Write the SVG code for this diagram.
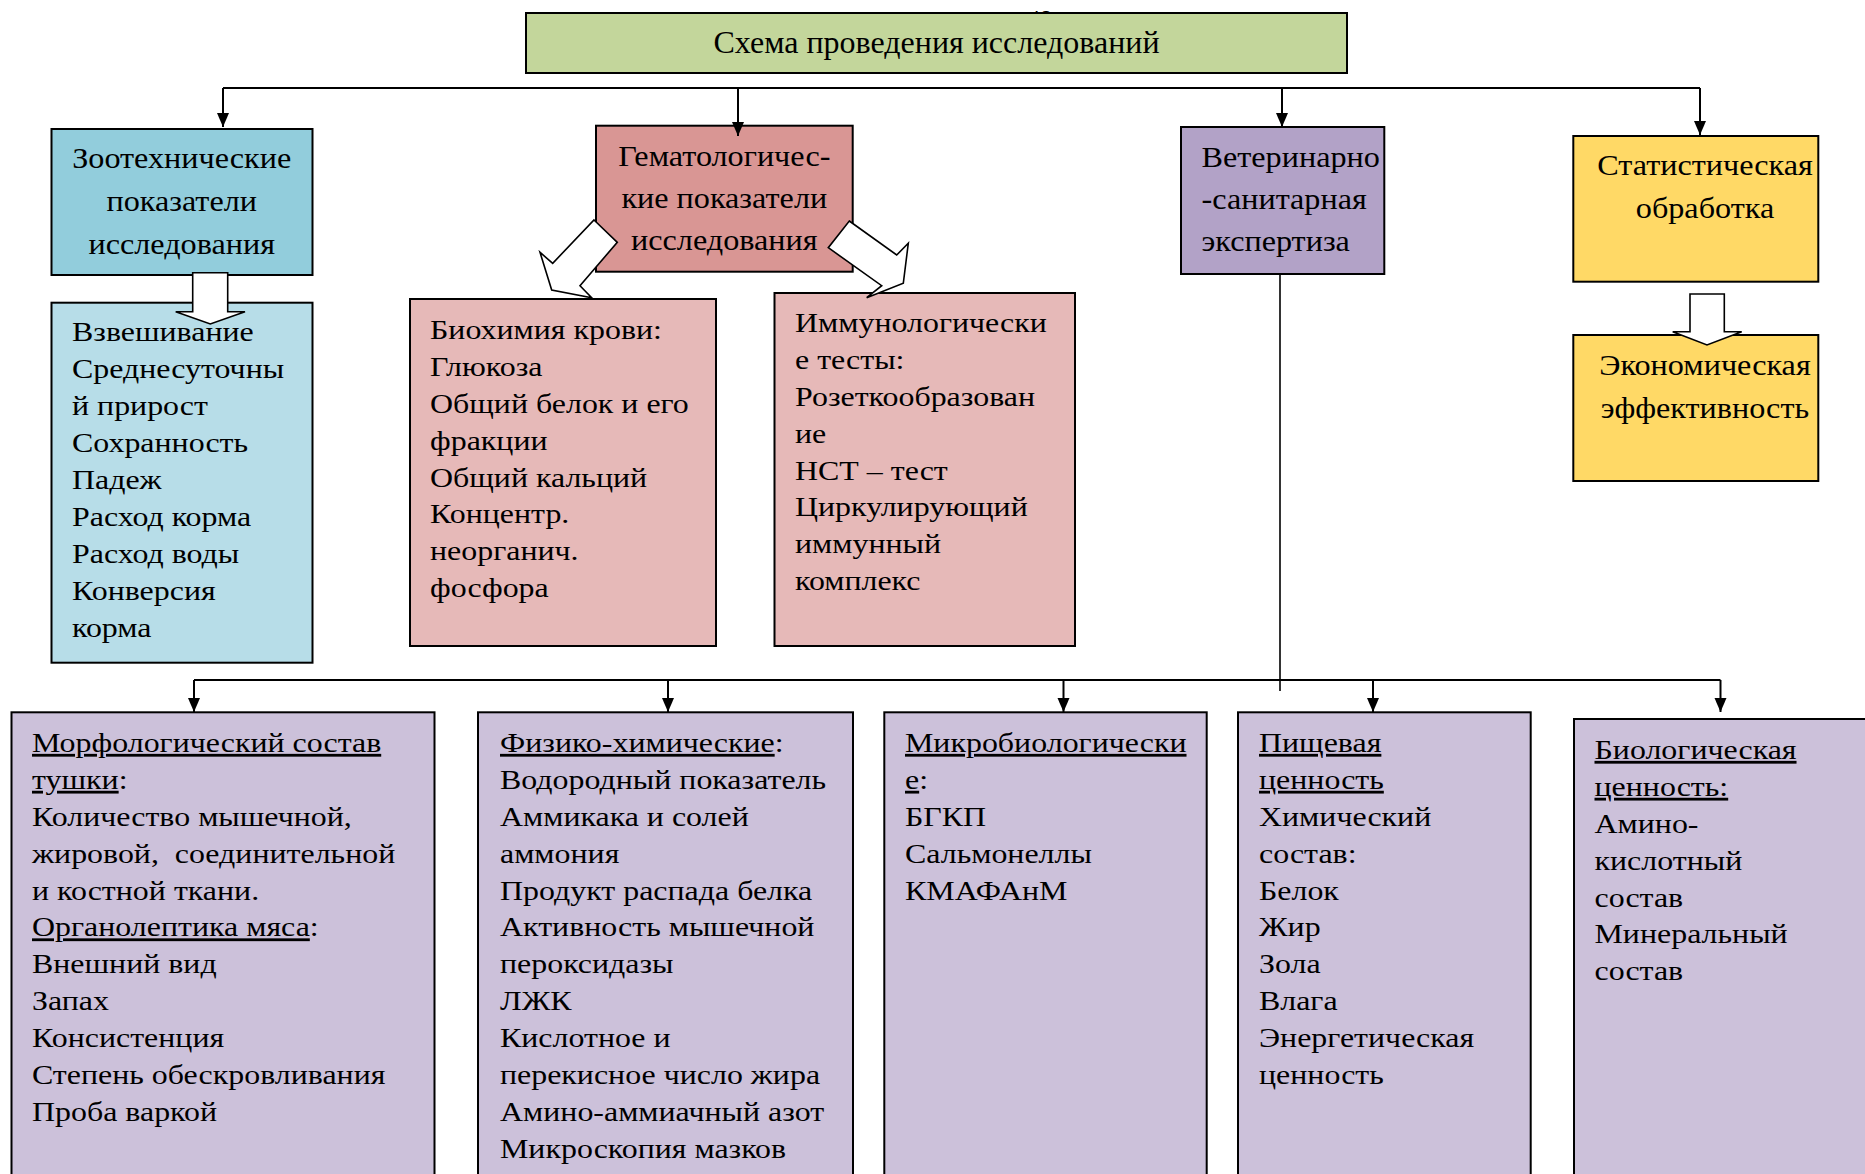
<svg xmlns="http://www.w3.org/2000/svg" width="1865" height="1174" viewBox="0 0 1865 1174">
<style>
text{font-family:"Liberation Serif","Times New Roman",serif;fill:#000}
.t{font-size:32px}
.h{font-size:28.5px}
.b{font-size:28px}
.c{text-anchor:middle}
.u{text-decoration:underline}
.box{stroke:#000;stroke-width:2}
.ln{fill:none;stroke:#000;stroke-width:2}
.hol{fill:#fff;stroke:#000;stroke-width:1.6;stroke-linejoin:miter}
</style>
<defs>
<marker id="ah" markerWidth="14" markerHeight="14" refX="14" refY="7" orient="auto" markerUnits="userSpaceOnUse"><path d="M0,1 L14,7 L0,13 z" fill="#000"/></marker>
</defs>
<rect width="1865" height="1174" fill="#fff"/>
<text x="1028" y="26" style="font-size:24px">48</text>

<g id="title">
<rect class="box" x="526" y="13" width="821" height="60" fill="#C3D69B"/>
<text class="t c" x="936.5" y="53">Схема проведения исследований</text>
</g>

<g id="zoo">
<rect class="box" x="51.5" y="129" width="261" height="146" fill="#92CDDC"/>
<g transform="translate(181.7 0) scale(1.13 1)">
<text class="h c" x="0" y="168">Зоотехнические</text>
<text class="h c" x="0" y="211">показатели</text>
<text class="h c" x="0" y="254">исследования</text>
</g>
</g>

<g id="zoo-list">
<rect class="box" x="51.5" y="302.7" width="261" height="360" fill="#B7DDE8"/>
<g transform="translate(72 0) scale(1.14 1)">
<text class="b" x="0" y="341.5">Взвешивание</text>
<text class="b" x="0" y="378.4">Среднесуточны</text>
<text class="b" x="0" y="415.3">й прирост</text>
<text class="b" x="0" y="452.2">Сохранность</text>
<text class="b" x="0" y="489.1">Падеж</text>
<text class="b" x="0" y="526">Расход корма</text>
<text class="b" x="0" y="562.9">Расход воды</text>
<text class="b" x="0" y="599.8">Конверсия</text>
<text class="b" x="0" y="636.7">корма</text>
</g>
</g>

<g id="hemat">
<rect class="box" x="596" y="125.7" width="256.7" height="146" fill="#D99694"/>
<g transform="translate(724.3 0) scale(1.13 1)">
<text class="h c" x="0" y="166">Гематологичес-</text>
<text class="h c" x="0" y="208">кие показатели</text>
<text class="h c" x="0" y="250">исследования</text>
</g>
</g>

<g id="biochem">
<rect class="box" x="410" y="299" width="306" height="347" fill="#E6B9B8"/>
<g transform="translate(430 0) scale(1.14 1)">
<text class="b" x="0" y="339.5">Биохимия крови:</text>
<text class="b" x="0" y="376.3">Глюкоза</text>
<text class="b" x="0" y="413.1">Общий белок и его</text>
<text class="b" x="0" y="449.9">фракции</text>
<text class="b" x="0" y="486.7">Общий кальций</text>
<text class="b" x="0" y="523.5">Концентр.</text>
<text class="b" x="0" y="560.3">неорганич.</text>
<text class="b" x="0" y="597.1">фосфора</text>
</g>
</g>

<g id="immun">
<rect class="box" x="774.5" y="293" width="300.5" height="353" fill="#E6B9B8"/>
<g transform="translate(795 0) scale(1.14 1)">
<text class="b" x="0" y="332.5">Иммунологически</text>
<text class="b" x="0" y="369.3">е тесты:</text>
<text class="b" x="0" y="406.1">Розеткообразован</text>
<text class="b" x="0" y="442.9">ие</text>
<text class="b" x="0" y="479.7">НСТ – тест</text>
<text class="b" x="0" y="516.5">Циркулирующий</text>
<text class="b" x="0" y="553.3">иммунный</text>
<text class="b" x="0" y="590.1">комплекс</text>
</g>
</g>

<g id="vet">
<rect class="box" x="1181" y="127" width="203.3" height="147" fill="#B2A2C7"/>
<g transform="translate(1201.5 0) scale(1.13 1)">
<text class="h" x="0" y="167">Ветеринарно</text>
<text class="h" x="0" y="209">-санитарная</text>
<text class="h" x="0" y="251">экспертиза</text>
</g>
</g>

<g id="stat">
<rect class="box" x="1573.3" y="136" width="245" height="145.7" fill="#FFD966"/>
<g transform="translate(1705 0) scale(1.13 1)">
<text class="h c" x="0" y="175.5">Статистическая</text>
<text class="h c" x="0" y="218">обработка</text>
</g>
</g>

<g id="econ">
<rect class="box" x="1573.3" y="335" width="245" height="146" fill="#FFD966"/>
<g transform="translate(1705 0) scale(1.13 1)">
<text class="h c" x="0" y="375">Экономическая</text>
<text class="h c" x="0" y="418">эффективность</text>
</g>
</g>

<g id="morph">
<rect class="box" x="11.5" y="712.3" width="423" height="480" fill="#CCC1DA"/>
<g transform="translate(32 0) scale(1.14 1)">
<text class="b" x="0" y="752"><tspan class="u">Морфологический состав</tspan></text>
<text class="b" x="0" y="788.9"><tspan class="u">тушки</tspan>:</text>
<text class="b" x="0" y="825.8">Количество мышечной,</text>
<text class="b" x="0" y="862.7" xml:space="preserve">жировой,  соединительной</text>
<text class="b" x="0" y="899.6">и костной ткани.</text>
<text class="b" x="0" y="936.5"><tspan class="u">Органолептика мяса</tspan>:</text>
<text class="b" x="0" y="973.4">Внешний вид</text>
<text class="b" x="0" y="1010.3">Запах</text>
<text class="b" x="0" y="1047.2">Консистенция</text>
<text class="b" x="0" y="1084.1">Степень обескровливания</text>
<text class="b" x="0" y="1121">Проба варкой</text>
</g>
</g>

<g id="phys">
<rect class="box" x="478" y="712.3" width="375" height="480" fill="#CCC1DA"/>
<g transform="translate(500 0) scale(1.14 1)">
<text class="b" x="0" y="752"><tspan class="u">Физико-химические</tspan>:</text>
<text class="b" x="0" y="788.9">Водородный показатель</text>
<text class="b" x="0" y="825.8">Аммикака и солей</text>
<text class="b" x="0" y="862.7">аммония</text>
<text class="b" x="0" y="899.6">Продукт распада белка</text>
<text class="b" x="0" y="936.5">Активность мышечной</text>
<text class="b" x="0" y="973.4">пероксидазы</text>
<text class="b" x="0" y="1010.3">ЛЖК</text>
<text class="b" x="0" y="1047.2">Кислотное и</text>
<text class="b" x="0" y="1084.1">перекисное число жира</text>
<text class="b" x="0" y="1121">Амино-аммиачный азот</text>
<text class="b" x="0" y="1157.9">Микроскопия мазков</text>
</g>
</g>

<g id="micro">
<rect class="box" x="884.3" y="712.3" width="322.4" height="480" fill="#CCC1DA"/>
<g transform="translate(905 0) scale(1.14 1)">
<text class="b" x="0" y="752"><tspan class="u">Микробиологически</tspan></text>
<text class="b" x="0" y="788.9"><tspan class="u">е</tspan>:</text>
<text class="b" x="0" y="825.8">БГКП</text>
<text class="b" x="0" y="862.7">Сальмонеллы</text>
<text class="b" x="0" y="899.6">КМАФАнМ</text>
</g>
</g>

<g id="food">
<rect class="box" x="1238" y="712.3" width="292.7" height="480" fill="#CCC1DA"/>
<g transform="translate(1259 0) scale(1.14 1)">
<text class="b" x="0" y="752"><tspan class="u">Пищевая</tspan></text>
<text class="b" x="0" y="788.9"><tspan class="u">ценность</tspan></text>
<text class="b" x="0" y="825.8">Химический</text>
<text class="b" x="0" y="862.7">состав:</text>
<text class="b" x="0" y="899.6">Белок</text>
<text class="b" x="0" y="936.5">Жир</text>
<text class="b" x="0" y="973.4">Зола</text>
<text class="b" x="0" y="1010.3">Влага</text>
<text class="b" x="0" y="1047.2">Энергетическая</text>
<text class="b" x="0" y="1084.1">ценность</text>
</g>
</g>

<g id="bio">
<rect class="box" x="1574" y="719" width="300" height="480" fill="#CCC1DA"/>
<g transform="translate(1594.5 0) scale(1.14 1)">
<text class="b" x="0" y="759"><tspan class="u">Биологическая</tspan></text>
<text class="b" x="0" y="795.9"><tspan class="u">ценность:</tspan></text>
<text class="b" x="0" y="832.8">Амино-</text>
<text class="b" x="0" y="869.7">кислотный</text>
<text class="b" x="0" y="906.6">состав</text>
<text class="b" x="0" y="943.5">Минеральный</text>
<text class="b" x="0" y="980.4">состав</text>
</g>
</g>

<g id="connectors">
<path class="ln" d="M223,88 H1700"/>
<path class="ln" d="M223,88 V127" marker-end="url(#ah)"/>
<path class="ln" d="M738,88 V136" marker-end="url(#ah)"/>
<path class="ln" d="M1282,88 V127" marker-end="url(#ah)"/>
<path class="ln" d="M1700,88 V135" marker-end="url(#ah)"/>
<path class="ln" d="M1280,274 V691" style="stroke-width:1.6"/>
<path class="ln" d="M194,680 H1720.5"/>
<path class="ln" d="M194,680 V712" marker-end="url(#ah)"/>
<path class="ln" d="M668,680 V712" marker-end="url(#ah)"/>
<path class="ln" d="M1063.5,680 V712" marker-end="url(#ah)"/>
<path class="ln" d="M1373,680 V712" marker-end="url(#ah)"/>
<path class="ln" d="M1720.5,680 V712" marker-end="url(#ah)"/>
<polygon class="hol" points="594,220 617.3,242.3 580,285.7 591.7,297.7 551.7,290 540,252.3 552.7,263.3"/>
<polygon class="hol" points="849.3,221 896.7,255 908.3,243.3 903.3,283.3 866.7,297.7 881.7,285.7 828.3,247.7"/>
<polygon class="hol" points="192.7,272.7 227.7,272.7 227.7,311.7 245,311.7 210.3,324 175.7,311.7 192.7,311.7"/>
<polygon class="hol" points="1690,294 1724.3,294 1724.3,331.7 1741.7,331.7 1707,345 1672.7,331.7 1690,331.7"/>
</g>
</svg>
